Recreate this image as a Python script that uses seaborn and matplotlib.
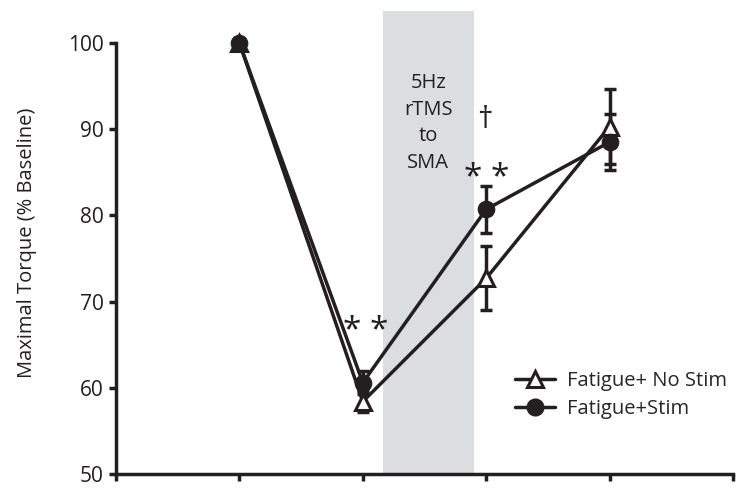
import matplotlib
matplotlib.use("Agg")
import matplotlib.pyplot as plt
import seaborn as sns
import pandas as pd
import numpy as np

sns.set_style("white")
plt.rcParams['font.family'] = ['Open Sans', 'DejaVu Sans']

timepoints = [1, 2, 3, 4]
nostim_mean = [100.0, 58.4, 72.7, 90.3]
nostim_err = [0.0, 1.2, 3.7, 4.4]
stim_mean = [100.0, 60.6, 80.7, 88.5]
stim_err = [0.0, 1.3, 2.7, 3.2]
series_names = ["Fatigue+ No Stim", "Fatigue+Stim"]

df = pd.DataFrame({
    "t": timepoints * 2,
    "torque": nostim_mean + stim_mean,
    "group": [series_names[0]] * 4 + [series_names[1]] * 4,
})

fig = plt.figure(figsize=(7.42, 4.93), dpi=100)
ax = fig.add_axes([116/742, 1 - 474/493, (733-116)/742, (474-11)/493])

ax.axvspan(2.16, 2.90, ymin=0, ymax=1, color="#dcdddf", zorder=0, lw=0)

ax.errorbar(timepoints, nostim_mean, yerr=nostim_err, fmt="none", ecolor="#231f20",
            elinewidth=2.5, capsize=4, capthick=2.5, zorder=2)
ax.errorbar(timepoints, stim_mean, yerr=stim_err, fmt="none", ecolor="#231f20",
            elinewidth=2.5, capsize=4, capthick=2.5, zorder=2)

sns.lineplot(data=df, x="t", y="torque", hue="group", style="group",
             markers={series_names[0]: "^", series_names[1]: "o"}, dashes=False,
             palette={series_names[0]: "#231f20", series_names[1]: "#231f20"},
             lw=2.5, ax=ax, legend=False, zorder=3)
lines = ax.get_lines()
for ln in lines:
    if ln.get_marker() == "^":
        ln.set_markersize(11)
        ln.set_markerfacecolor("white")
        ln.set_markeredgecolor("#231f20")
        ln.set_markeredgewidth(2.2)
    elif ln.get_marker() == "o":
        ln.set_markersize(12)
        ln.set_markerfacecolor("#231f20")
        ln.set_markeredgecolor("#231f20")

from matplotlib.lines import Line2D
handles = [
    Line2D([], [], color="#231f20", lw=2.5, marker="^", markersize=11,
           markerfacecolor="white", markeredgecolor="#231f20", markeredgewidth=2.2),
    Line2D([], [], color="#231f20", lw=2.5, marker="o", markersize=12,
           markerfacecolor="#231f20"),
]
ax.legend(handles, series_names, loc="lower right", bbox_to_anchor=(1.02, 0.08),
          frameon=False, fontsize=14.5, handlelength=2.0, handletextpad=0.6,
          labelspacing=0.4)

ax.set_xlim(0, 5)
ax.set_ylim(50, 103.7)
ax.set_yticks([50, 60, 70, 80, 90, 100])
ax.set_xticks([0, 1, 2, 3, 4, 5])
ax.set_xticklabels([])
ax.spines["top"].set_visible(False)
ax.spines["right"].set_visible(False)
for s in ["left", "bottom"]:
    ax.spines[s].set_linewidth(2.5)
    ax.spines[s].set_color("#231f20")
ax.spines["left"].set_bounds(50, 100)
ax.tick_params(axis="y", direction="out", length=5, width=2.5, color="#231f20",
               labelsize=15, labelcolor="#231f20", pad=4, left=True)
ax.tick_params(axis="x", direction="out", length=5, width=2.5, color="#231f20",
               bottom=True)
ax.set_xlabel("")
ax.set_ylabel("Maximal Torque (% Baseline)", fontsize=14.5, color="#231f20", labelpad=22)

ax.text(2.02, 66.5, "* *", fontsize=24, ha="center", va="center", color="#231f20")
ax.text(3.0, 84.3, "* *", fontsize=24, ha="center", va="center", color="#231f20")
ax.text(2.99, 91.0, "†", fontsize=22, ha="center", va="center", color="#231f20")
ax.text(2.53, 90.7, "5Hz\nrTMS\nto\nSMA", fontsize=14.5, ha="center", va="center",
        color="#231f20", linespacing=1.45)

fig.savefig("out.png", dpi=100)
